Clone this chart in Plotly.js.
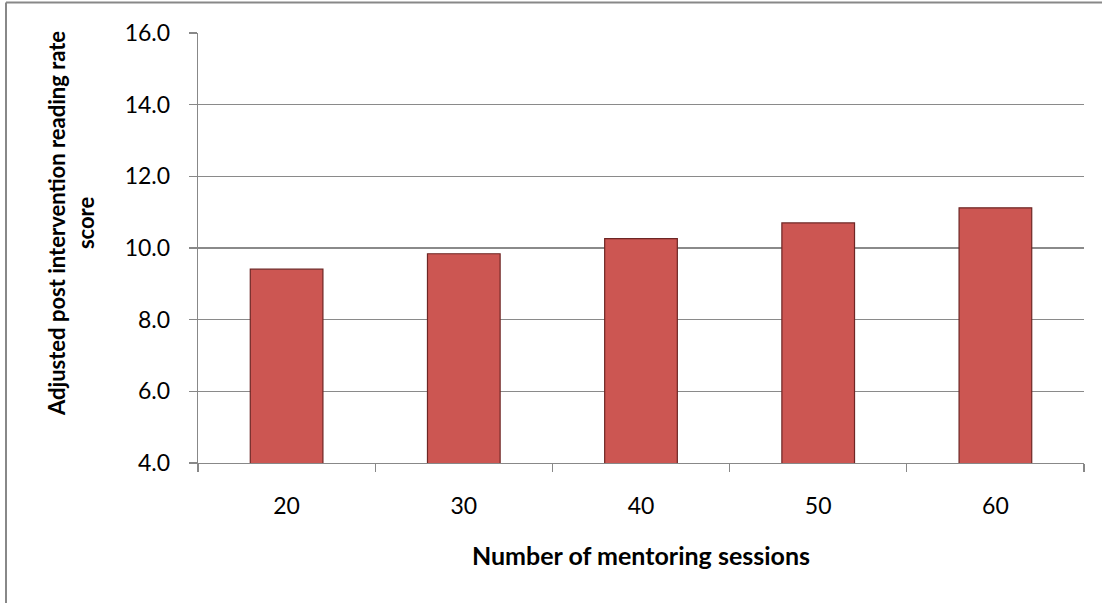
<!DOCTYPE html>
<html>
<head>
<meta charset="utf-8">
<script src="https://cdn.plot.ly/plotly-3.0.1.min.js"></script>
<style>
html,body{margin:0;padding:0;background:#fff;}
#chart{width:1102px;height:603px;}
</style>
</head>
<body>
<div id="chart"></div>
<script>
const categories = ["20", "30", "40", "50", "60"];
const scores = [9.41, 9.84, 10.26, 10.70, 11.12];
const yTickValues = [4, 6, 8, 10, 12, 14, 16];
const xTitle = 'Number of mentoring sessions';
const yTitle = 'Adjusted post intervention reading rate<br>score';

const trace = {
  type: 'bar',
  x: categories,
  y: scores,
  width: 0.41,
  marker: {color: '#CC5652', line: {color: '#6E2624', width: 1.2}},
  hoverinfo: 'x+y'
};

const font = "Lato, 'Open Sans', 'Liberation Sans', sans-serif";

const layout = {
  width: 1102, height: 603,
  margin: {l: 198, r: 18, t: 33, b: 139.5},
  paper_bgcolor: '#fff', plot_bgcolor: '#fff',
  showlegend: false,
  font: {family: font, size: 16, color: '#000'},
  xaxis: {
    type: 'category',
    tickson: 'boundaries',
    ticks: 'outside', ticklen: 8, tickcolor: '#888', tickwidth: 1.3,
    showline: true, linecolor: '#888', linewidth: 1.3,
    showgrid: false,
    ticklabelstandoff: 22,
    tickfont: {family: font, size: 23, color: '#000'},
    title: {text: '<b>' + xTitle + '</b>', font: {family: font, size: 25, color: '#000'}, standoff: 29}
  },
  yaxis: {
    range: [4, 16],
    tickvals: yTickValues,
    tickformat: '.1f',
    ticks: 'outside', ticklen: 8, tickcolor: '#888', tickwidth: 1.3,
    showline: true, linecolor: '#888', linewidth: 1.3,
    showgrid: true, gridcolor: '#8a8a8a', gridwidth: 1.3,
    zeroline: false,
    ticklabelstandoff: 14,
    tickfont: {family: font, size: 23, color: '#000'}
  },
  annotations: [
    {xref: 'paper', yref: 'paper', x: -0.1433, y: 0.556, xanchor: 'center', yanchor: 'middle',
     textangle: -90, showarrow: false, align: 'center',
     text: '<b>' + yTitle + '</b>', font: {family: font, size: 22, color: '#000'}}
  ],
  shapes: [
    {type: 'line', xref: 'paper', yref: 'paper', x0: -0.2167, x1: -0.2167, y0: -0.33, y1: 1.0708, line: {color: '#888', width: 2}},
    {type: 'line', xref: 'paper', yref: 'paper', x0: -0.2167, x1: 1.03, y0: 1.0708, y1: 1.0708, line: {color: '#888', width: 2}}
  ]
};

Plotly.newPlot('chart', [trace], layout, {displayModeBar: false, staticPlot: true});
</script>
</body>
</html>
